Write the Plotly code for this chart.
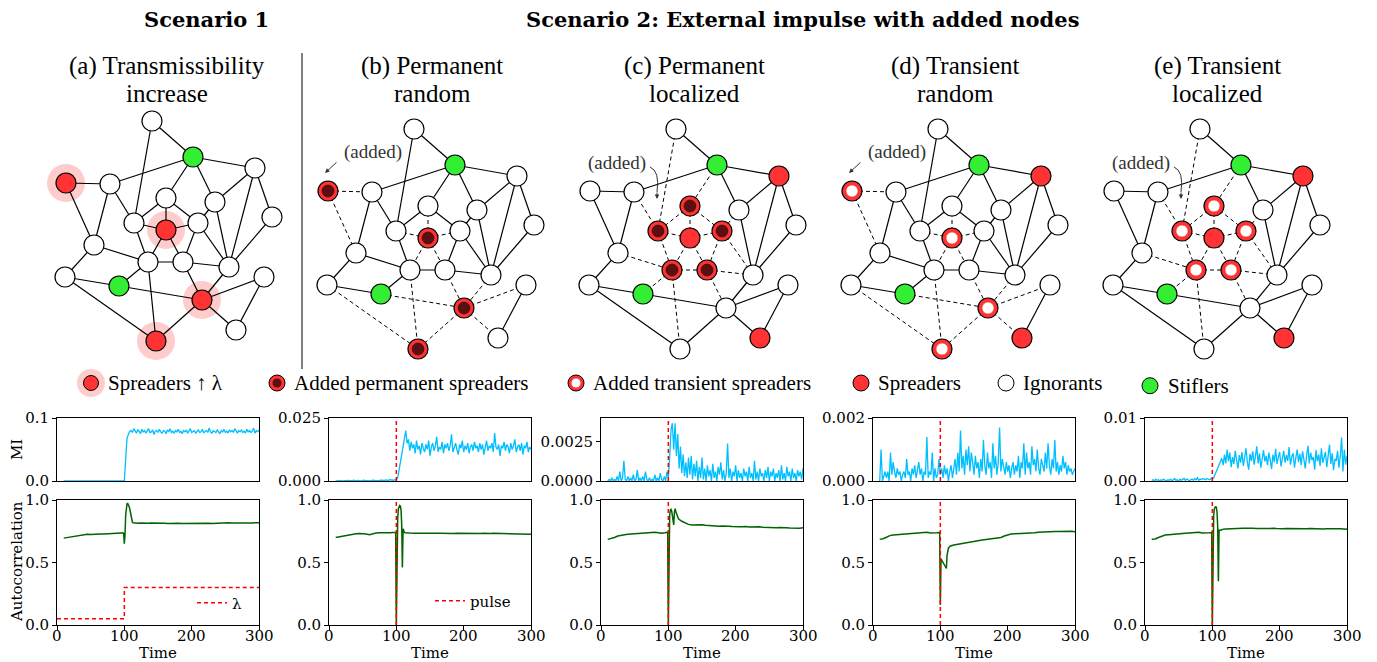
import plotly.graph_objects as go

W, H = 1377, 662

# ---------------- data: bottom time series ----------------
T_MI = list(range(10, 301, 2))

MI_A = [
    0.0, 0.0, 0.0, 0.0, 0.0, 0.0, 0.0, 0.0, 0.0, 0.0,
    0.0, 0.0, 0.0, 0.0, 0.0, 0.0, 0.0, 0.0, 0.0, 0.0,
    0.0, 0.0, 0.0, 0.0, 0.0, 0.0, 0.0, 0.0, 0.0, 0.0,
    0.0, 0.0, 0.0, 0.0, 0.0, 0.0, 0.0, 0.0, 0.0, 0.0,
    0.0, 0.0, 0.0, 0.0, 0.0, 0.0,
    0.035, 0.068, 0.074, 0.079,
    0.080, 0.077, 0.083, 0.078, 0.076, 0.081, 0.079, 0.075, 0.082, 0.078,
    0.080, 0.076, 0.079, 0.083, 0.077, 0.078, 0.081, 0.074, 0.079, 0.080,
    0.077, 0.082, 0.078, 0.076, 0.080, 0.079, 0.075, 0.081, 0.078, 0.083,
    0.077, 0.079, 0.076, 0.080, 0.078, 0.082, 0.077, 0.079, 0.075, 0.080,
    0.078, 0.081, 0.076, 0.079, 0.083, 0.077, 0.078, 0.080, 0.076, 0.079,
    0.081, 0.077, 0.078, 0.082, 0.076, 0.079, 0.080, 0.077, 0.084, 0.078,
    0.076, 0.080, 0.079, 0.077, 0.081, 0.078, 0.075, 0.080, 0.078, 0.082,
    0.077, 0.079, 0.076, 0.081, 0.078, 0.080, 0.077, 0.083, 0.079, 0.076,
    0.080, 0.078, 0.081, 0.077, 0.079, 0.076, 0.082, 0.078, 0.080, 0.077,
    0.079, 0.084, 0.076, 0.080, 0.078, 0.081,
]

MI_B = [
    0.0000, 0.0001, 0.0000, 0.0002, 0.0001, 0.0000, 0.0001, 0.0001, 0.0000, 0.0002,
    0.0001, 0.0000, 0.0001, 0.0003, 0.0001, 0.0000, 0.0002, 0.0001, 0.0001, 0.0000,
    0.0002, 0.0003, 0.0001, 0.0002, 0.0001, 0.0000, 0.0002, 0.0001, 0.0003, 0.0002,
    0.0001, 0.0002, 0.0001, 0.0003, 0.0002, 0.0001, 0.0002, 0.0004, 0.0003, 0.0002,
    0.0005, 0.0004, 0.0006, 0.0003, 0.0005, 0.0004,
    0.0012, 0.0040, 0.0075, 0.0100, 0.0135, 0.0170, 0.0200, 0.0150, 0.0165, 0.0120,
    0.0155, 0.0130, 0.0145, 0.0110, 0.0160, 0.0125, 0.0140, 0.0105, 0.0150, 0.0130,
    0.0115, 0.0145, 0.0125, 0.0160, 0.0100, 0.0135, 0.0150, 0.0120, 0.0140, 0.0175,
    0.0115, 0.0135, 0.0125, 0.0155, 0.0110, 0.0145, 0.0130, 0.0150, 0.0120, 0.0140,
    0.0185, 0.0115, 0.0135, 0.0150, 0.0125, 0.0105, 0.0145, 0.0130, 0.0160, 0.0115,
    0.0140, 0.0125, 0.0150, 0.0110, 0.0135, 0.0145, 0.0120, 0.0155, 0.0130, 0.0140,
    0.0115, 0.0150, 0.0125, 0.0145, 0.0105, 0.0135, 0.0160, 0.0120, 0.0140, 0.0130,
    0.0150, 0.0115, 0.0190, 0.0135, 0.0125, 0.0145, 0.0100, 0.0140, 0.0130, 0.0155,
    0.0120, 0.0145, 0.0135, 0.0110, 0.0150, 0.0125, 0.0140, 0.0165, 0.0115, 0.0135,
    0.0145, 0.0120, 0.0150, 0.0105, 0.0140, 0.0130, 0.0155, 0.0115, 0.0135, 0.0125,
]

MI_C = [
    0.0000, 0.0001, 0.0000, 0.0002, 0.0000, 0.0001, 0.0000, 0.0003, 0.0000, 0.0006,
    0.0000, 0.0002, 0.0013, 0.0001, 0.0000, 0.0003, 0.0000, 0.0002, 0.0000, 0.0004,
    0.0000, 0.0001, 0.0007, 0.0000, 0.0002, 0.0000, 0.0003, 0.0000, 0.0006, 0.0001,
    0.0000, 0.0002, 0.0000, 0.0001, 0.0000, 0.0004, 0.0000, 0.0002, 0.0000, 0.0005,
    0.0001, 0.0000, 0.0003, 0.0000, 0.0006, 0.0002,
    0.0015, 0.0033, 0.0037, 0.0020, 0.0037, 0.0016, 0.0030, 0.0008, 0.0022, 0.0005,
    0.0017, 0.0003, 0.0012, 0.0002, 0.0015, 0.0004, 0.0016, 0.0001, 0.0011, 0.0003,
    0.0013, 0.0000, 0.0009, 0.0002, 0.0015, 0.0001, 0.0008, 0.0000, 0.0010, 0.0003,
    0.0007, 0.0000, 0.0011, 0.0002, 0.0006, 0.0000, 0.0009, 0.0004, 0.0012, 0.0001,
    0.0007, 0.0000, 0.0005, 0.0024, 0.0002, 0.0008, 0.0000, 0.0006, 0.0003, 0.0010,
    0.0000, 0.0007, 0.0002, 0.0005, 0.0000, 0.0008, 0.0003, 0.0006, 0.0000, 0.0009,
    0.0002, 0.0005, 0.0000, 0.0013, 0.0001, 0.0006, 0.0000, 0.0008, 0.0003, 0.0005,
    0.0000, 0.0007, 0.0002, 0.0009, 0.0000, 0.0006, 0.0003, 0.0008, 0.0000, 0.0005,
    0.0002, 0.0007, 0.0000, 0.0010, 0.0001, 0.0005, 0.0000, 0.0009, 0.0003, 0.0006,
    0.0000, 0.0008, 0.0002, 0.0005, 0.0000, 0.0007, 0.0003, 0.0006, 0.0001, 0.0008,
]

MI_D = [
    0.0000, 0.0010, 0.0000, 0.0002, 0.0003, 0.0001, 0.0003, 0.0000, 0.0009, 0.0002,
    0.0006, 0.0003, 0.0001, 0.0004, 0.0002, 0.0003, 0.0000, 0.0002, 0.0003, 0.0001,
    0.0007, 0.0002, 0.0003, 0.0000, 0.0004, 0.0002, 0.0005, 0.0001, 0.0003, 0.0006,
    0.0002, 0.0004, 0.0000, 0.0003, 0.0002, 0.0014, 0.0001, 0.0003, 0.0002, 0.0009,
    0.0000, 0.0004, 0.0001, 0.0002, 0.0007, 0.0002,
    0.0004, 0.0001, 0.0005, 0.0002, 0.0004, 0.0000, 0.0003, 0.0005, 0.0001, 0.0004,
    0.0007, 0.0002, 0.0009, 0.0003, 0.0016, 0.0004, 0.0008, 0.0002, 0.0010, 0.0005,
    0.0011, 0.0003, 0.0009, 0.0006, 0.0002, 0.0008, 0.0004, 0.0006, 0.0001, 0.0007,
    0.0003, 0.0013, 0.0005, 0.0002, 0.0009, 0.0004, 0.0006, 0.0001, 0.0012, 0.0004,
    0.0008, 0.0002, 0.0006, 0.0017, 0.0003, 0.0007, 0.0005, 0.0002, 0.0006, 0.0003,
    0.0005, 0.0001, 0.0004, 0.0006, 0.0002, 0.0005, 0.0003, 0.0008, 0.0001, 0.0006,
    0.0004, 0.0012, 0.0002, 0.0009, 0.0004, 0.0006, 0.0002, 0.0011, 0.0005, 0.0007,
    0.0003, 0.0010, 0.0004, 0.0002, 0.0007, 0.0005, 0.0003, 0.0009, 0.0004, 0.0012,
    0.0005, 0.0002, 0.0007, 0.0004, 0.0013, 0.0003, 0.0006, 0.0002, 0.0005, 0.0003,
    0.0008, 0.0004, 0.0006, 0.0002, 0.0005, 0.0003, 0.0004, 0.0002, 0.0003, 0.0004,
]

MI_E = [
    0.0001, 0.0002, 0.0000, 0.0003, 0.0001, 0.0002, 0.0000, 0.0002, 0.0001, 0.0003,
    0.0001, 0.0000, 0.0002, 0.0001, 0.0003, 0.0000, 0.0002, 0.0004, 0.0001, 0.0002,
    0.0000, 0.0003, 0.0001, 0.0002, 0.0004, 0.0001, 0.0003, 0.0002, 0.0000, 0.0002,
    0.0003, 0.0001, 0.0004, 0.0002, 0.0005, 0.0001, 0.0003, 0.0002, 0.0004, 0.0003,
    0.0002, 0.0004, 0.0003, 0.0002, 0.0004, 0.0003,
    0.0005, 0.0010, 0.0016, 0.0021, 0.0024, 0.0030, 0.0036, 0.0025, 0.0042, 0.0028,
    0.0050, 0.0031, 0.0045, 0.0022, 0.0038, 0.0027, 0.0048, 0.0033, 0.0020, 0.0041,
    0.0029, 0.0046, 0.0024, 0.0037, 0.0052, 0.0030, 0.0018, 0.0043, 0.0032, 0.0047,
    0.0026, 0.0039, 0.0055, 0.0028, 0.0044, 0.0021, 0.0036, 0.0049, 0.0031, 0.0040,
    0.0025, 0.0045, 0.0033, 0.0019, 0.0042, 0.0030, 0.0051, 0.0027, 0.0038, 0.0046,
    0.0023, 0.0035, 0.0048, 0.0029, 0.0041, 0.0032, 0.0054, 0.0026, 0.0039, 0.0044,
    0.0021, 0.0037, 0.0050, 0.0030, 0.0043, 0.0025, 0.0047, 0.0034, 0.0020, 0.0040,
    0.0056, 0.0028, 0.0045, 0.0033, 0.0038, 0.0018, 0.0049, 0.0031, 0.0042, 0.0024,
    0.0052, 0.0029, 0.0036, 0.0046, 0.0022, 0.0040, 0.0058, 0.0027, 0.0044, 0.0017,
    0.0035, 0.0032, 0.0048, 0.0021, 0.0039, 0.0069, 0.0015, 0.0050, 0.0026, 0.0040,
]

AC_T = list(range(10, 100, 5)) + list(range(98, 116)) + list(range(120, 301, 5))

AC_A = [
    0.695, 0.700, 0.705, 0.710, 0.715, 0.718, 0.722, 0.725, 0.723, 0.726,
    0.725, 0.728, 0.727, 0.730, 0.732, 0.731, 0.735, 0.736,
    0.737, 0.732, 0.650, 0.720, 0.880, 0.950, 0.970, 0.972, 0.965, 0.950,
    0.930, 0.900, 0.870, 0.840, 0.822, 0.818, 0.817, 0.816,
    0.815, 0.816, 0.814, 0.815, 0.817, 0.815, 0.814, 0.816, 0.815, 0.813,
    0.815, 0.816, 0.814, 0.812, 0.813, 0.815, 0.814, 0.813, 0.815, 0.816,
    0.814, 0.815, 0.813, 0.814, 0.816, 0.818, 0.820, 0.818, 0.816, 0.815,
    0.816, 0.817, 0.815, 0.816, 0.817, 0.816, 0.818,
]
AC_B = [
    0.700, 0.705, 0.712, 0.718, 0.722, 0.727, 0.730, 0.732, 0.731, 0.728,
    0.722, 0.730, 0.736, 0.737, 0.735, 0.738, 0.737, 0.739,
    0.738, 0.740, 0.000, 0.550, 0.850, 0.930, 0.950, 0.955, 0.950, 0.920,
    0.800, 0.460, 0.770, 0.745, 0.740, 0.738, 0.737, 0.736,
    0.735, 0.734, 0.733, 0.732, 0.733, 0.734, 0.732, 0.731, 0.733, 0.734,
    0.732, 0.733, 0.731, 0.732, 0.734, 0.733, 0.731, 0.732, 0.733, 0.731,
    0.730, 0.732, 0.733, 0.731, 0.732, 0.734, 0.733, 0.731, 0.730, 0.732,
    0.731, 0.733, 0.732, 0.729, 0.727, 0.725, 0.726,
]
AC_C = [
    0.685, 0.690, 0.700, 0.712, 0.720, 0.722, 0.725, 0.728, 0.730, 0.733,
    0.735, 0.737, 0.738, 0.740, 0.742, 0.738, 0.735, 0.738,
    0.740, 0.742, 0.000, 0.600, 0.880, 0.920, 0.925, 0.910, 0.880, 0.850,
    0.800, 0.900, 0.930, 0.910, 0.890, 0.875, 0.862, 0.850,
    0.830, 0.815, 0.805, 0.800, 0.800, 0.805, 0.802, 0.798, 0.795, 0.797,
    0.793, 0.790, 0.792, 0.788, 0.790, 0.787, 0.789, 0.786, 0.785, 0.788,
    0.784, 0.786, 0.783, 0.785, 0.782, 0.780, 0.783, 0.781, 0.778, 0.780,
    0.776, 0.778, 0.775, 0.773, 0.776, 0.774, 0.777,
]
AC_D = [
    0.685, 0.690, 0.702, 0.715, 0.720, 0.722, 0.725, 0.728, 0.730, 0.733,
    0.732, 0.735, 0.737, 0.740, 0.742, 0.736, 0.735, 0.738,
    0.740, 0.738, 0.160, 0.530, 0.520, 0.510, 0.500, 0.492, 0.485, 0.475,
    0.465, 0.452, 0.560, 0.600, 0.615, 0.622, 0.628, 0.632,
    0.640, 0.645, 0.650, 0.655, 0.662, 0.668, 0.672, 0.676, 0.678, 0.682,
    0.686, 0.690, 0.692, 0.697, 0.700, 0.712, 0.722, 0.728, 0.730, 0.731,
    0.730, 0.733, 0.734, 0.736, 0.738, 0.742, 0.744, 0.745, 0.744, 0.746,
    0.747, 0.748, 0.750, 0.751, 0.752, 0.750, 0.745,
]
AC_E = [
    0.685, 0.688, 0.700, 0.712, 0.720, 0.722, 0.723, 0.726, 0.730, 0.732,
    0.733, 0.735, 0.737, 0.738, 0.742, 0.736, 0.734, 0.737,
    0.738, 0.740, 0.000, 0.600, 0.880, 0.930, 0.945, 0.950, 0.940, 0.900,
    0.780, 0.350, 0.760, 0.758, 0.755, 0.758, 0.762, 0.765,
    0.768, 0.770, 0.772, 0.773, 0.775, 0.774, 0.773, 0.775, 0.774, 0.772,
    0.773, 0.771, 0.770, 0.772, 0.773, 0.771, 0.769, 0.770, 0.772, 0.771,
    0.770, 0.772, 0.771, 0.768, 0.770, 0.772, 0.771, 0.768, 0.764, 0.768,
    0.770, 0.771, 0.773, 0.772, 0.770, 0.768, 0.766,
]

LAMBDA_T = [0, 100, 100, 300]
LAMBDA_V = [0.05, 0.05, 0.3, 0.3]
PULSE_T = 100

MI_SERIES = [MI_A, MI_B, MI_C, MI_D, MI_E]
AC_SERIES = [AC_A, AC_B, AC_C, AC_D, AC_E]
MI_YMAX = [0.1, 0.025, 0.00403, 0.002, 0.01]
MI_TICKVALS = [[0, 0.1], [0, 0.025], [0, 0.0025], [0, 0.002], [0, 0.01]]
MI_TICKTEXT = [["0.0", "0.1"], ["0.000", "0.025"], ["0.0000", "0.0025"],
               ["0.000", "0.002"], ["0.00", "0.01"]]
AC_TICKVALS = [0, 0.5, 1.0]
AC_TICKTEXT = ["0.0", "0.5", "1.0"]
TIME_TICKS = [0, 100, 200, 300]

# ---------------- data: network ----------------
NODE_X = [152, 193, 255, 66, 110, 166, 215, 272, 134, 166, 198, 94, 148, 183, 229, 65, 119, 202, 264, 236, 156]
NODE_Y = [121, 157, 168, 183, 184, 198, 202, 217, 223, 230, 223, 245, 262, 262, 267, 277, 286, 300, 277, 330, 341]
EDGES = [(1, 2), (1, 9), (2, 3), (2, 5), (2, 6), (2, 7), (3, 7), (3, 8), (3, 15), (4, 5), (4, 12),
         (5, 9), (5, 12), (6, 9), (6, 10), (6, 11), (7, 11), (7, 15), (8, 15), (9, 10), (9, 13),
         (10, 11), (10, 13), (10, 14), (11, 14), (11, 15), (12, 13), (12, 16), (13, 14), (13, 17),
         (13, 21), (14, 15), (14, 18), (15, 18), (16, 17), (16, 21), (17, 18), (18, 19), (18, 20),
         (19, 20), (18, 21)]

PANEL_TITLES = [("(a) Transmissibility", "increase"), ("(b) Permanent", "random"),
                ("(c) Permanent", "localized"), ("(d) Transient", "random"),
                ("(e) Transient", "localized")]
PANEL_HALO = [[4, 10, 18, 21], [], [], [], []]
PANEL_RED = [[4, 10, 18, 21], [], [3, 10, 20], [3, 20], [3, 10, 20]]
PANEL_GREEN = [[2, 17], [2, 17], [2, 17], [2, 17], [2, 17]]
PANEL_PERM = [[], [4, 10, 18, 21], [6, 9, 11, 13, 14], [], []]
PANEL_TRANS = [[], [], [], [4, 10, 18, 21], [6, 9, 11, 13, 14]]

LEGEND_LABELS = ["Spreaders \u2191 \u03bb", "Added permanent spreaders", "Added transient spreaders",
                 "Spreaders", "Ignorants", "Stiflers"]

# ---------------- styling / layout constants ----------------
RED = "#FF3333"
GREEN = "#33EE33"
DARK = "#5A1010"
HALO = "#FFCCCC"
MI_COLOR = "#00BFFF"
AC_COLOR = "#006400"
PULSE_COLOR = "#FF0000"
DASH = "4px,3px"

COL_L = [57, 329, 601, 873, 1145]
COL_W = 202
MI_TOP, MI_BOT = 418, 481
AC_TOP, AC_BOT = 500, 625
NET_OFF_X = [0, 262, 524, 786, 1048]
NET_OFF_Y = [0, 8, 8, 8, 8]
TITLE_CX = [167, 432, 694, 955, 1217]
LEG_MX = [91, 277, 576, 861, 1006, 1150]
LEG_TX = [106, 292, 591, 876, 1021, 1166]

TICKFONT = dict(family="DejaVu Serif", size=15, color="black")


def names(n):
    s = "" if n == 1 else str(n)
    return "xaxis" + s, "yaxis" + s, "x" + s, "y" + s


def note(text, x, y, xref="paper", yref="paper", font=TICKFONT, **kw):
    d = dict(text=text, x=x, y=y, xref=xref, yref=yref, showarrow=False, font=font,
             xanchor="center", yanchor="middle")
    d.update(kw)
    return d


frame = dict(showline=True, linecolor="black", linewidth=1, mirror=True, showgrid=False,
             zeroline=False, ticks="outside", ticklen=4, tickwidth=1, tickcolor="black",
             tickfont=TICKFONT, automargin=False, fixedrange=True)

fig = go.Figure()
layout = {}
annotations = []
shapes = []

# ---------------- bottom plots ----------------
for k in range(5):
    x0, x1 = COL_L[k], COL_L[k] + COL_W
    xa, ya, xr, yr = names(k + 1)
    layout[xa] = dict(frame, domain=[x0 / W, x1 / W], range=[0, 300], anchor=yr,
                      showticklabels=False, ticks="")
    layout[ya] = dict(frame, domain=[1 - MI_BOT / H, 1 - MI_TOP / H], range=[0, MI_YMAX[k]],
                      anchor=xr, tickvals=MI_TICKVALS[k], ticktext=MI_TICKTEXT[k])
    fig.add_trace(go.Scatter(x=T_MI, y=MI_SERIES[k], mode="lines",
                             line=dict(color=MI_COLOR, width=1.3), xaxis=xr, yaxis=yr,
                             showlegend=False, hoverinfo="skip"))
    if k > 0:
        fig.add_trace(go.Scatter(x=[PULSE_T, PULSE_T], y=[0, MI_YMAX[k]], mode="lines",
                                 line=dict(color=PULSE_COLOR, width=1.5, dash=DASH),
                                 xaxis=xr, yaxis=yr, showlegend=False, hoverinfo="skip"))

    xa, ya, xr, yr = names(k + 6)
    layout[xa] = dict(frame, domain=[x0 / W, x1 / W], range=[0, 300], anchor=yr,
                      tickvals=TIME_TICKS, showticklabels=False)
    layout[ya] = dict(frame, domain=[1 - AC_BOT / H, 1 - AC_TOP / H], range=[0, 1],
                      anchor=xr, tickvals=AC_TICKVALS, ticktext=AC_TICKTEXT)
    fig.add_trace(go.Scatter(x=AC_T, y=AC_SERIES[k], mode="lines",
                             line=dict(color=AC_COLOR, width=1.5), xaxis=xr, yaxis=yr,
                             showlegend=False, hoverinfo="skip"))
    if k == 0:
        fig.add_trace(go.Scatter(x=LAMBDA_T, y=LAMBDA_V, mode="lines", name="\u03bb",
                                 line=dict(color=PULSE_COLOR, width=1.5, dash=DASH),
                                 xaxis=xr, yaxis=yr, showlegend=True, legend="legend",
                                 hoverinfo="skip"))
    else:
        fig.add_trace(go.Scatter(x=[PULSE_T, PULSE_T], y=[0, 1], mode="lines", name="pulse",
                                 line=dict(color=PULSE_COLOR, width=1.5, dash=DASH),
                                 xaxis=xr, yaxis=yr, showlegend=(k == 1), legend="legend2",
                                 hoverinfo="skip"))
    # x tick labels placed through the axis scale
    for t in TIME_TICKS:
        annotations.append(note(str(t), t, 1 - 636 / H, xref=xr, yref="paper"))
    annotations.append(note("Time", (x0 + x1) / 2 / W, 1 - 653 / H))

annotations.append(note("MI", 17 / W, 1 - 450 / H, textangle=-90))
annotations.append(note("Autocorrelation", 17 / W, 1 - 562 / H, textangle=-90))

# ---------------- networks ----------------
node_line = dict(color="black", width=1.2)
ADDED_FONT = dict(family="Liberation Serif", size=19, color="#333")
TITLE_FONT = dict(family="Liberation Serif", size=25, color="black")
for k in range(5):
    n = 11 + k
    xa, ya, xr, yr = names(n)
    ox, oy = NET_OFF_X[k], NET_OFF_Y[k]
    layout[xa] = dict(visible=False, domain=[(35 + ox) / W, (295 + ox) / W], range=[35, 295],
                      anchor=yr, fixedrange=True)
    layout[ya] = dict(visible=False, domain=[1 - (365 + oy) / H, 1 - (100 + oy) / H],
                      range=[365, 100], anchor=xr, fixedrange=True)

    def pts(ids):
        return [NODE_X[i - 1] for i in ids], [NODE_Y[i - 1] for i in ids]

    added = set(PANEL_PERM[k]) | set(PANEL_TRANS[k])
    others = [i for i in range(1, 22) if i not in added and i not in PANEL_RED[k]
              and i not in PANEL_GREEN[k]]

    if PANEL_HALO[k]:
        hx, hy = pts(PANEL_HALO[k])
        fig.add_trace(go.Scatter(x=hx, y=hy, mode="markers", xaxis=xr, yaxis=yr,
                                 marker=dict(size=38, color=HALO, line=dict(width=0)),
                                 showlegend=False, hoverinfo="skip", cliponaxis=False))

    sx, sy, dx, dy = [], [], [], []
    for a, b in EDGES:
        xs = [NODE_X[a - 1], NODE_X[b - 1], None]
        ys = [NODE_Y[a - 1], NODE_Y[b - 1], None]
        if a in added or b in added:
            dx += xs
            dy += ys
        else:
            sx += xs
            sy += ys
    fig.add_trace(go.Scatter(x=sx, y=sy, mode="lines", xaxis=xr, yaxis=yr,
                             line=dict(color="black", width=1.2), showlegend=False,
                             hoverinfo="skip", cliponaxis=False))
    if dx:
        fig.add_trace(go.Scatter(x=dx, y=dy, mode="lines", xaxis=xr, yaxis=yr,
                                 line=dict(color="black", width=1, dash=DASH),
                                 showlegend=False, hoverinfo="skip", cliponaxis=False))

    for ids, col in [(others, "white"), (PANEL_GREEN[k], GREEN), (PANEL_RED[k], RED)]:
        if ids:
            px_, py_ = pts(ids)
            fig.add_trace(go.Scatter(x=px_, y=py_, mode="markers", xaxis=xr, yaxis=yr,
                                     marker=dict(size=20, color=col, line=node_line),
                                     showlegend=False, hoverinfo="skip", cliponaxis=False))
    for ids, inner in [(PANEL_PERM[k], DARK), (PANEL_TRANS[k], "white")]:
        if ids:
            px_, py_ = pts(ids)
            fig.add_trace(go.Scatter(x=px_, y=py_, mode="markers", xaxis=xr, yaxis=yr,
                                     marker=dict(size=20, color=RED, line=node_line),
                                     showlegend=False, hoverinfo="skip", cliponaxis=False))
            fig.add_trace(go.Scatter(x=px_, y=py_, mode="markers", xaxis=xr, yaxis=yr,
                                     marker=dict(size=12, color=inner,
                                                 line=dict(color="#3a0000" if inner == DARK else RED,
                                                           width=0.6)),
                                     showlegend=False, hoverinfo="skip", cliponaxis=False))

    # "(added)" labels
    if k in (1, 3):
        annotations.append(note("(added)", 111, 144, xref=xr, yref=yr, font=ADDED_FONT))
        annotations.append(dict(text="", x=63, y=165, ax=76, ay=153, axref=xr, ayref=yr,
                                xref=xr, yref=yr, showarrow=True, arrowhead=2, arrowsize=0.9,
                                arrowwidth=1, arrowcolor="#333"))
    if k in (2, 4):
        annotations.append(note("(added)", 93, 155, xref=xr, yref=yr, font=ADDED_FONT))
        shapes.append(dict(type="path", xref=xr, yref=yr, path="M 126,159 Q 136,163 133,184",
                           line=dict(color="#333", width=1)))
        annotations.append(dict(text="", x=133, y=191, ax=133, ay=183, axref=xr, ayref=yr,
                                xref=xr, yref=yr, showarrow=True, arrowhead=2, arrowsize=0.9,
                                arrowwidth=1, arrowcolor="#333"))

    # panel titles
    annotations.append(note(PANEL_TITLES[k][0], TITLE_CX[k] / W, 1 - 66 / H, font=TITLE_FONT))
    annotations.append(note(PANEL_TITLES[k][1], TITLE_CX[k] / W, 1 - 93 / H, font=TITLE_FONT))

# scenario titles
SCEN_FONT = dict(family="DejaVu Serif", size=21, color="black")
annotations.append(note("<b>Scenario 1</b>", 206 / W, 1 - 19 / H, font=SCEN_FONT))
annotations.append(note("<b>Scenario 2: External impulse with added nodes</b>", 802 / W,
                        1 - 19 / H, font=SCEN_FONT))

# divider
shapes.append(dict(type="line", xref="paper", yref="paper", x0=302 / W, x1=302 / W,
                   y0=1 - 53 / H, y1=1 - 369 / H, line=dict(color="#555", width=1.5)))

# ---------------- node legend row ----------------
xa, ya, xr, yr = names(16)
layout[xa] = dict(visible=False, domain=[0, 1], range=[0, W], anchor=yr, fixedrange=True)
layout[ya] = dict(visible=False, domain=[1 - 400 / H, 1 - 366 / H], range=[0, 1], anchor=xr,
                  fixedrange=True)
leg_line = dict(color="black", width=1)


def leg(x, y, size, color, line):
    fig.add_trace(go.Scatter(x=[x], y=[y], mode="markers", xaxis=xr, yaxis=yr,
                             marker=dict(size=size, color=color, line=line),
                             showlegend=False, hoverinfo="skip", cliponaxis=False))


leg(LEG_MX[0], 0.5, 28, HALO, dict(width=0))
leg(LEG_MX[0], 0.5, 15, RED, leg_line)
leg(LEG_MX[1], 0.5, 16, RED, leg_line)
leg(LEG_MX[1], 0.5, 9, DARK, dict(width=0))
leg(LEG_MX[2], 0.5, 16, RED, leg_line)
leg(LEG_MX[2], 0.5, 9, "white", dict(width=0))
leg(LEG_MX[3], 0.5, 16, RED, leg_line)
leg(LEG_MX[4], 0.5, 16, "white", leg_line)
leg(LEG_MX[5], 0.42, 16, GREEN, leg_line)
LEG_FONT = dict(family="Liberation Serif", size=21, color="black")
for i, lab in enumerate(LEGEND_LABELS):
    annotations.append(note(lab, LEG_TX[i], 0.5 if i < 5 else 0.42, xref=xr, yref=yr,
                            font=LEG_FONT, xanchor="left"))

legend_common = dict(xanchor="left", yanchor="middle", bgcolor="rgba(0,0,0,0)", borderwidth=0,
                     font=dict(family="DejaVu Serif", size=15, color="black"), itemwidth=30)

fig.update_layout(
    width=W, height=H, margin=dict(l=0, r=0, t=0, b=0), template="none",
    paper_bgcolor="white", plot_bgcolor="rgba(0,0,0,0)", showlegend=True,
    legend=dict(legend_common, x=192 / W, y=1 - 603 / H),
    legend2=dict(legend_common, x=430 / W, y=1 - 601 / H),
    annotations=annotations, shapes=shapes, **layout)

fig.write_html("out.html")
